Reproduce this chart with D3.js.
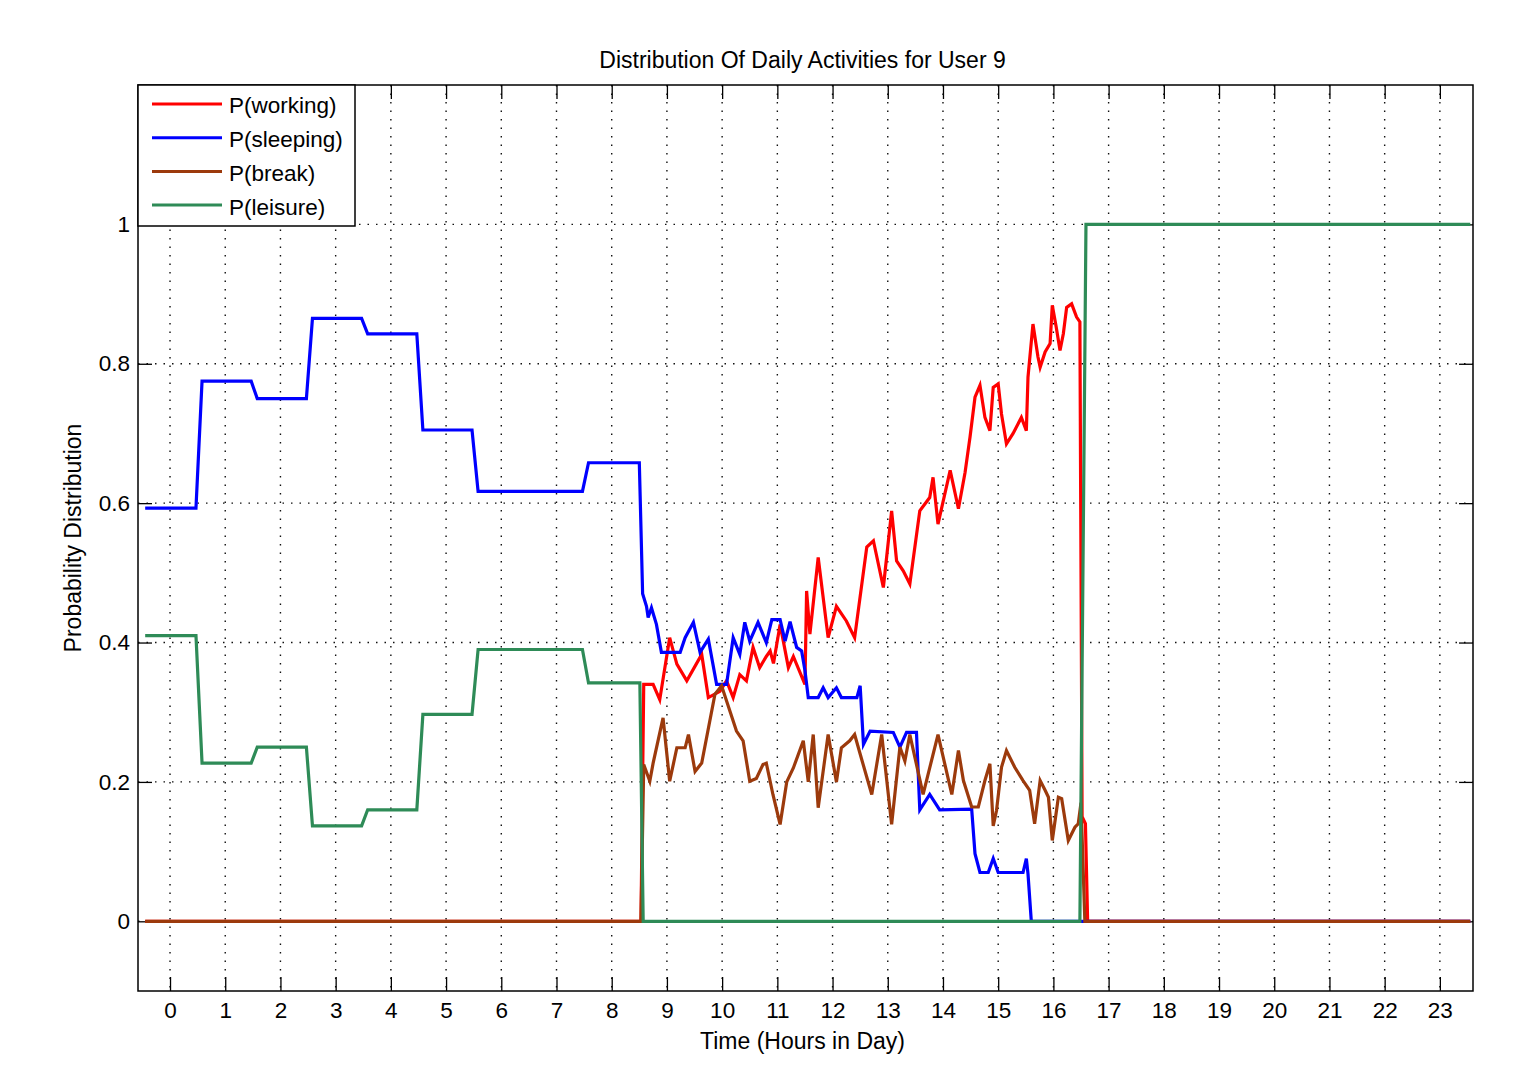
<!DOCTYPE html>
<html>
<head>
<meta charset="utf-8">
<script src="https://cdn.jsdelivr.net/npm/d3@7"></script>
<style>
    body { margin: 0; background: #fff; }
    text { font-family: "Liberation Sans", Arial, sans-serif; fill: #000; }
</style>
</head>
<body>
<div id="chart"></div>
<script>
// series as [hour, probability] pairs
var working = [[-0.45, 0], [8.53, 0], [8.58, 0.34], [8.75, 0.34], [8.87, 0.318], [9.05, 0.407], [9.18, 0.369],
    [9.36, 0.345], [9.63, 0.383], [9.75, 0.321], [9.96, 0.33], [10.08, 0.345], [10.2, 0.321], [10.32, 0.354],
    [10.44, 0.345], [10.56, 0.393], [10.68, 0.364], [10.8, 0.38], [10.87, 0.388], [10.93, 0.37], [11.05, 0.426],
    [11.2, 0.364], [11.29, 0.38], [11.5, 0.34], [11.53, 0.474], [11.59, 0.412], [11.74, 0.522], [11.92, 0.407],
    [12.07, 0.452], [12.25, 0.431], [12.4, 0.407], [12.62, 0.537], [12.74, 0.546], [12.92, 0.479], [13.07, 0.589],
    [13.16, 0.517], [13.28, 0.503], [13.4, 0.484], [13.58, 0.589], [13.76, 0.608], [13.82, 0.637], [13.91, 0.57],
    [14.13, 0.647], [14.28, 0.592], [14.4, 0.644], [14.49, 0.695], [14.58, 0.752], [14.67, 0.769], [14.76, 0.723],
    [14.85, 0.704], [14.91, 0.766], [15.0, 0.771], [15.06, 0.728], [15.15, 0.685], [15.27, 0.7], [15.42, 0.723],
    [15.51, 0.704], [15.54, 0.781], [15.63, 0.857], [15.72, 0.81], [15.76, 0.795], [15.85, 0.817], [15.94, 0.829],
    [15.98, 0.884], [16.05, 0.853], [16.12, 0.819], [16.18, 0.843], [16.24, 0.881], [16.33, 0.886], [16.42, 0.867],
    [16.48, 0.86], [16.52, 0.15], [16.58, 0.14], [16.62, 0], [23.55, 0]];

var sleeping = [[-0.45, 0.593], [0.47, 0.593], [0.58, 0.775], [1.47, 0.775], [1.58, 0.75], [2.47, 0.75],
    [2.58, 0.865], [3.47, 0.865], [3.58, 0.843], [4.47, 0.843], [4.58, 0.705], [5.47, 0.705], [5.58, 0.617],
    [7.47, 0.617], [7.58, 0.658], [8.5, 0.658], [8.56, 0.47], [8.63, 0.452], [8.66, 0.436], [8.72, 0.45],
    [8.81, 0.426], [8.9, 0.386], [9.24, 0.386], [9.33, 0.407], [9.48, 0.429], [9.6, 0.386], [9.75, 0.405],
    [9.9, 0.34], [10.08, 0.34], [10.2, 0.407], [10.32, 0.383], [10.41, 0.429], [10.5, 0.402], [10.65, 0.429],
    [10.8, 0.4], [10.9, 0.433], [11.05, 0.433], [11.14, 0.402], [11.23, 0.43], [11.35, 0.393], [11.44, 0.388],
    [11.5, 0.36], [11.56, 0.321], [11.74, 0.321], [11.83, 0.335], [11.92, 0.321], [12.07, 0.335], [12.16, 0.321],
    [12.44, 0.321], [12.5, 0.338], [12.56, 0.254], [12.68, 0.273], [13.1, 0.271], [13.22, 0.25], [13.34, 0.271],
    [13.52, 0.271], [13.58, 0.16], [13.76, 0.182], [13.94, 0.16], [14.52, 0.161], [14.58, 0.097], [14.67, 0.07],
    [14.82, 0.07], [14.91, 0.09], [15.0, 0.07], [15.45, 0.07], [15.51, 0.09], [15.54, 0.068], [15.6, 0], [23.55, 0]];

var breakTime = [[-0.45, 0], [8.53, 0], [8.58, 0.225], [8.69, 0.201], [8.75, 0.227], [8.93, 0.292], [9.05, 0.201],
    [9.18, 0.249], [9.33, 0.249], [9.39, 0.268], [9.51, 0.215], [9.63, 0.227], [9.87, 0.326], [9.99, 0.338],
    [10.26, 0.273], [10.38, 0.259], [10.5, 0.201], [10.62, 0.205], [10.74, 0.225], [10.8, 0.227], [10.92, 0.182],
    [11.05, 0.139], [11.17, 0.2], [11.29, 0.22], [11.47, 0.259], [11.56, 0.2], [11.65, 0.268], [11.74, 0.163],
    [11.92, 0.268], [12.07, 0.2], [12.16, 0.249], [12.31, 0.259], [12.4, 0.268], [12.5, 0.24], [12.71, 0.182],
    [12.89, 0.268], [13.07, 0.139], [13.22, 0.25], [13.31, 0.23], [13.4, 0.268], [13.64, 0.182], [13.91, 0.268],
    [14.16, 0.182], [14.28, 0.245], [14.37, 0.202], [14.52, 0.164], [14.64, 0.164], [14.76, 0.202], [14.85, 0.226],
    [14.91, 0.137], [14.97, 0.159], [15.06, 0.221], [15.15, 0.245], [15.3, 0.221], [15.45, 0.202], [15.57, 0.188],
    [15.66, 0.14], [15.76, 0.202], [15.85, 0.188], [15.91, 0.178], [15.98, 0.116], [16.09, 0.178], [16.15, 0.176],
    [16.27, 0.116], [16.39, 0.135], [16.45, 0.14], [16.5, 0.17], [16.57, 0], [23.55, 0]];

var leisure = [[-0.45, 0.41], [0.47, 0.41], [0.58, 0.227], [1.47, 0.227], [1.58, 0.25], [2.47, 0.25],
    [2.58, 0.137], [3.47, 0.137], [3.58, 0.16], [4.47, 0.16], [4.58, 0.297], [5.47, 0.297], [5.58, 0.39],
    [7.47, 0.39], [7.58, 0.342], [8.51, 0.342], [8.57, 0], [16.48, 0], [16.59, 1], [23.55, 1]];

var seriesNames = ["P(working)", "P(sleeping)", "P(break)", "P(leisure)"];
var seriesColors = ["#ff0000", "#0000ff", "#9c3a0c", "#2e8b57"];
var hourTicks = d3.range(0, 24);
var probTicks = [0, 0.2, 0.4, 0.6, 0.8, 1];

var width = 1527,
    height = 1078,
    margin = { top: 85, right: 54, bottom: 87, left: 138 },
    plotW = width - margin.left - margin.right,
    plotH = height - margin.top - margin.bottom,
    tickLen = 14;

var svg = d3.select("#chart").append("svg")
    .attr("width", width)
    .attr("height", height);

var g = svg.append("g")
    .attr("transform", "translate(" + margin.left + "," + margin.top + ")");

var x = d3.scaleLinear().domain([-0.58, 23.6]).range([0, plotW]);
var y = d3.scaleLinear().domain([-0.1, 1.2]).range([plotH, 0]);

// dotted grid
g.append("g").selectAll("line")
    .data(hourTicks).enter().append("line")
    .attr("x1", function (d) { return x(d); })
    .attr("x2", function (d) { return x(d); })
    .attr("y1", 0).attr("y2", plotH)
    .attr("stroke", "#111").attr("stroke-width", 1.4)
    .attr("stroke-dasharray", "1.5,7");

g.append("g").selectAll("line")
    .data(probTicks).enter().append("line")
    .attr("y1", function (d) { return y(d); })
    .attr("y2", function (d) { return y(d); })
    .attr("x1", 0).attr("x2", plotW)
    .attr("stroke", "#111").attr("stroke-width", 1.4)
    .attr("stroke-dasharray", "1.5,7");

// axes, ticks pointing inwards like matlab
function styleAxis(sel) {
    sel.select(".domain").remove();
    sel.selectAll(".tick line").attr("stroke", "#000").attr("stroke-width", 1.3);
    sel.selectAll(".tick text").style("font-size", "22.5px").attr("fill", "#000");
}

g.append("g")
    .attr("transform", "translate(0," + plotH + ")")
    .call(d3.axisBottom(x).tickValues(hourTicks).tickFormat(d3.format("d"))
        .tickSizeInner(-tickLen).tickSizeOuter(0).tickPadding(11))
    .call(styleAxis);

g.append("g")
    .call(d3.axisTop(x).tickValues(hourTicks).tickFormat("")
        .tickSizeInner(-tickLen).tickSizeOuter(0))
    .call(styleAxis);

g.append("g")
    .call(d3.axisLeft(y).tickValues(probTicks).tickFormat(d3.format("~g"))
        .tickSizeInner(-tickLen).tickSizeOuter(0).tickPadding(8))
    .call(styleAxis);

g.append("g")
    .attr("transform", "translate(" + plotW + ",0)")
    .call(d3.axisRight(y).tickValues(probTicks).tickFormat("")
        .tickSizeInner(-tickLen).tickSizeOuter(0))
    .call(styleAxis);

// lines
var line = d3.line()
    .x(function (d) { return x(d[0]); })
    .y(function (d) { return y(d[1]); });

var allSeries = [working, sleeping, breakTime, leisure];

g.append("g").selectAll("path")
    .data(allSeries).enter().append("path")
    .attr("d", line)
    .attr("fill", "none")
    .attr("stroke", function (d, i) { return seriesColors[i]; })
    .attr("stroke-width", 3.2);

// box around axes
g.append("rect")
    .attr("width", plotW).attr("height", plotH)
    .attr("fill", "none").attr("stroke", "#000").attr("stroke-width", 1.5);

// legend
var legend = g.append("g");
legend.append("rect")
    .attr("width", 217).attr("height", 141)
    .attr("fill", "#fff").attr("stroke", "#000").attr("stroke-width", 1.5);

var items = legend.selectAll(".item")
    .data(seriesNames).enter().append("g")
    .attr("class", "item")
    .attr("transform", function (d, i) { return "translate(0," + (19 + i * 33.7) + ")"; });

items.append("line")
    .attr("x1", 14).attr("x2", 84)
    .attr("stroke", function (d, i) { return seriesColors[i]; })
    .attr("stroke-width", 3);

items.append("text")
    .attr("x", 91).attr("dy", "0.42em")
    .style("font-size", "22.5px")
    .text(function (d) { return d; });

// titles
svg.append("text")
    .attr("x", margin.left + plotW / 2 - 3).attr("y", 68)
    .attr("text-anchor", "middle")
    .style("font-size", "23px")
    .text("Distribution Of Daily Activities for User 9");

svg.append("text")
    .attr("x", margin.left + plotW / 2 - 3).attr("y", 1049)
    .attr("text-anchor", "middle")
    .style("font-size", "23px")
    .text("Time (Hours in Day)");

svg.append("text")
    .attr("transform", "translate(81," + (margin.top + y(0.55)) + ") rotate(-90)")
    .attr("text-anchor", "middle")
    .style("font-size", "23px")
    .text("Probability Distribution");
</script>
</body>
</html>
